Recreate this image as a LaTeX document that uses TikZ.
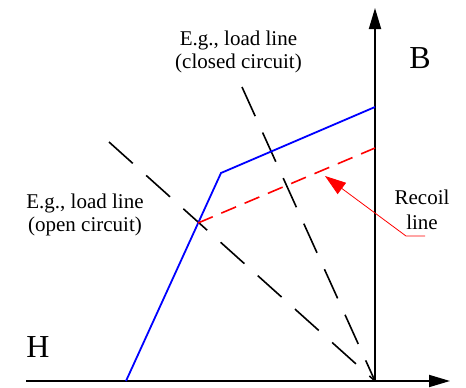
\documentclass[tikz,border=0pt]{standalone}
\usepackage{fontspec}
\setmainfont{Liberation Serif}
\usetikzlibrary{arrows.meta}
\begin{document}
\begin{tikzpicture}[x=1pt,y=-1pt,
  axis/.style={line width=1.8pt,-{Triangle[length=21pt,width=12pt]}},
  bh/.style={line width=1.8pt,blue},
  loadline/.style={line width=1.6pt,dash pattern=on 32pt off 18pt},
  recoildash/.style={line width=1.6pt,red,dash pattern=on 16pt off 9.3pt},
  pointer/.style={line width=0.8pt,red,-{Triangle[length=21pt,width=14pt]}},
  lbl/.style={font=\fontsize{21}{22.5}\selectfont,align=center,inner sep=0pt},
  axlbl/.style={font=\fontsize{32}{34}\selectfont,inner sep=0pt,anchor=base}]
\useasboundingbox (0,0) rectangle (466,388);
% coordinates
\coordinate (O) at (375,381);
\coordinate (xs) at (26,381);
\coordinate (xe) at (450,381);
\coordinate (ye) at (375,8);
\coordinate (b0) at (126,381);
\coordinate (b1) at (221,173);
\coordinate (b2) at (375,107);
\coordinate (r0) at (198,223);
\coordinate (r1) at (375,148);
\coordinate (lo) at (109,142);
\coordinate (lc) at (242,87);
\coordinate (p0) at (425,236);
\coordinate (p1) at (406,236);
\coordinate (pt) at (325,176);
% axes
\draw[axis] (xs) -- (xe);
\draw[axis] (O) -- (ye);
% load lines
\draw[loadline] (lo) -- (O);
\draw[loadline] (lc) -- (O);
% BH curve
\draw[bh] (b0) -- (b1) -- (b2);
% recoil line
\draw[recoildash] (r0) -- (r1);
\draw[pointer] (p0) -- (p1) -- (pt);
% labels
\node[axlbl] (B) at (420,68) {B};
\node[axlbl] (H) at (38,357) {H};
\node[lbl,font=\fontsize{21}{25}\selectfont] (rl) at (422,210) {Recoil\\line};
\node[lbl] (cc) at (238.5,52) {E.g., load line\\(closed circuit)};
\node[lbl] (oc) at (85,215) {E.g., load line\\(open circuit)};
\end{tikzpicture}
\end{document}
